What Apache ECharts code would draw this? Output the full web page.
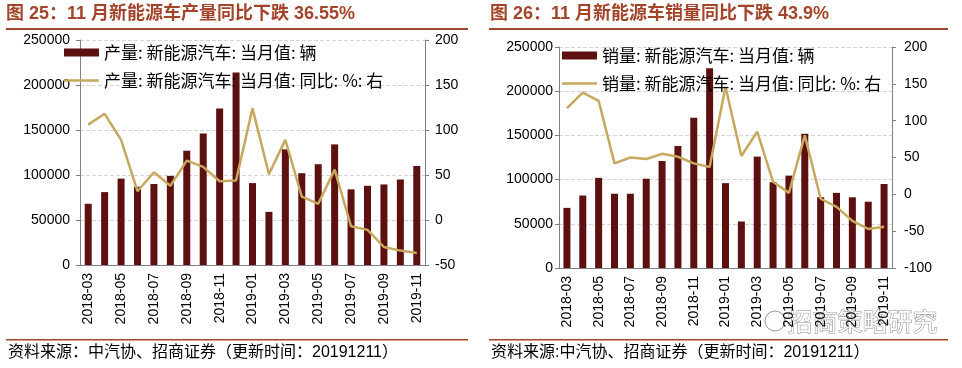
<!DOCTYPE html>
<html><head><meta charset="utf-8">
<script src="https://cdn.jsdelivr.net/npm/echarts@6/dist/echarts.min.js"></script>
<style>html,body{margin:0;padding:0;background:#fff}#c{width:962px;height:368px}</style>
</head><body><div id="c"></div>
<script>
const categories = ['2018-03','2018-04','2018-05','2018-06','2018-07','2018-08','2018-09','2018-10','2018-11','2018-12','2019-01','2019-02','2019-03','2019-04','2019-05','2019-06','2019-07','2019-08','2019-09','2019-10','2019-11'];
const prodVolume = [68000, 81000, 96000, 87000, 90000, 99000, 127000, 146000, 174000, 214000, 91000, 59000, 128500, 102000, 112000, 134000, 84000, 88000, 89500, 95000, 110000];
const prodYoY = [106, 118, 89, 32, 53, 38, 66, 59, 43, 44, 124, 51, 89, 26, 18, 56, -7, -11, -30, -34, -36.55];
const salesVolume = [68000, 82000, 102000, 84000, 84000, 101000, 121000, 138000, 170000, 226000, 96000, 52600, 126000, 97000, 104500, 152000, 80000, 85000, 80000, 75000, 95000];
const salesYoY = [117, 138, 127, 42, 50, 48, 55, 51, 42, 37, 146, 52, 85, 17, 2, 80, -6, -17, -36, -47, -43.9];
const leftAxisTicks = {min: 0, max: 250000, interval: 50000};
const prodRightTicks = {min: -50, max: 200, interval: 50};
const salesRightTicks = {min: -100, max: 200, interval: 50};
const titles = ['图 25：11 月新能源车产量同比下跌 36.55%', '图 26：11 月新能源车销量同比下跌 43.9%'];
const sources = ['资料来源：中汽协、招商证券（更新时间：20191211）', '资料来源:中汽协、招商证券（更新时间：20191211）'];
const names = {
  prodBar: '产量: 新能源汽车: 当月值: 辆',
  prodLine: '产量: 新能源汽车: 当月值: 同比: %: 右',
  salesBar: '销量: 新能源汽车: 当月值: 辆',
  salesLine: '销量: 新能源汽车: 当月值: 同比: %: 右'
};

const CJK = '"Noto Sans CJK SC", sans-serif';
const LAT = '"Liberation Sans", "Noto Sans CJK SC", sans-serif';
const BAR_COLOR = '#5C1010';
const LINE_COLOR = '#C6A95E';
const TITLE_COLOR = '#A3452B';
const AXIS_COLOR = '#808080';
const LINE_ICON = 'path://M0,0L0,0M0,8L0,8M0,2.8L35,2.8L35,5.2L0,5.2Z';

const plain = v => String(v);

function xAx(gi) {
  return {type: 'category', gridIndex: gi, data: categories, boundaryGap: true,
    axisLine: {lineStyle: {color: AXIS_COLOR}},
    axisTick: {interval: 1, length: 4, lineStyle: {color: AXIS_COLOR}},
    axisLabel: {interval: 1, rotate: 90, fontSize: 14, color: '#000', fontFamily: LAT, margin: 8}};
}
function yLeft(gi, margin) {
  return Object.assign({type: 'value', gridIndex: gi, position: 'left',
    axisLine: {show: true, lineStyle: {color: AXIS_COLOR}},
    axisTick: {show: true, length: 4, lineStyle: {color: AXIS_COLOR}},
    axisLabel: {fontSize: 14, color: '#000', fontFamily: LAT, margin: margin, formatter: plain},
    splitLine: {show: true, lineStyle: {type: 'dashed', color: '#d6d6d6'}}}, leftAxisTicks);
}
function yRight(gi, ticks, margin) {
  return Object.assign({type: 'value', gridIndex: gi, position: 'right',
    axisLine: {show: true, lineStyle: {color: AXIS_COLOR}},
    axisTick: {show: true, length: 4, lineStyle: {color: AXIS_COLOR}},
    axisLabel: {fontSize: 14, color: '#000', fontFamily: LAT, margin: margin, formatter: plain},
    splitLine: {show: false}}, ticks);
}
function legendFor(left, top, barName, lineName) {
  return {orient: 'vertical', left: left, top: top, itemWidth: 35, itemHeight: 8, itemGap: 11,
    textStyle: {fontSize: 17, fontFamily: CJK, color: '#000'},
    data: [{name: barName, icon: 'rect'}, {name: lineName, icon: LINE_ICON}]};
}

const chart = echarts.init(document.getElementById('c'));
chart.setOption({
  animation: false,
  backgroundColor: '#fff',
  grid: [
    {left: 80, top: 40, width: 345, height: 225},
    {left: 559, top: 47, width: 333, height: 221}
  ],
  xAxis: [xAx(0), xAx(1)],
  yAxis: [yLeft(0, 10), yRight(0, prodRightTicks, 10), yLeft(1, 6), yRight(1, salesRightTicks, 12)],
  legend: [
    legendFor(59, 39, names.prodBar, names.prodLine),
    legendFor(557, 42, names.salesBar, names.salesLine)
  ],
  series: [
    {name: names.prodBar, type: 'bar', xAxisIndex: 0, yAxisIndex: 0, data: prodVolume, barWidth: 7, itemStyle: {color: BAR_COLOR}},
    {name: names.prodLine, type: 'line', xAxisIndex: 0, yAxisIndex: 1, data: prodYoY, symbol: 'none', lineStyle: {color: LINE_COLOR, width: 2.5}, itemStyle: {color: LINE_COLOR}},
    {name: names.salesBar, type: 'bar', xAxisIndex: 1, yAxisIndex: 2, data: salesVolume, barWidth: 7, itemStyle: {color: BAR_COLOR}},
    {name: names.salesLine, type: 'line', xAxisIndex: 1, yAxisIndex: 3, data: salesYoY, symbol: 'none', lineStyle: {color: LINE_COLOR, width: 2.5}, itemStyle: {color: LINE_COLOR}}
  ],
  graphic: [
    {type: 'text', left: 6, top: 5, style: {text: titles[0], font: 'bold 18px ' + LAT, fill: TITLE_COLOR}},
    {type: 'rect', shape: {x: 6, y: 28, width: 462, height: 2}, style: {fill: TITLE_COLOR}},
    {type: 'text', left: 490, top: 5, style: {text: titles[1], font: 'bold 18px ' + LAT, fill: TITLE_COLOR}},
    {type: 'rect', shape: {x: 489, y: 28, width: 459, height: 2}, style: {fill: TITLE_COLOR}},
    {type: 'rect', shape: {x: 6, y: 339, width: 462, height: 1.5}, style: {fill: TITLE_COLOR}},
    {type: 'rect', shape: {x: 489, y: 339, width: 459, height: 1.5}, style: {fill: TITLE_COLOR}},
    {type: 'text', left: 8, top: 345, style: {text: sources[0], font: '16px ' + LAT, fill: '#000'}},
    {type: 'text', left: 491, top: 345, style: {text: sources[1], font: '16px ' + LAT, fill: '#000'}},
    {type: 'circle', shape: {cx: 775, cy: 321, r: 10}, style: {fill: 'rgba(255,255,255,0.85)', stroke: '#9a9a9a', lineWidth: 1}},
    {type: 'text', left: 787, top: 308, style: {text: '招商策略研究', font: '25px ' + CJK, fill: '#ffffff', stroke: '#8a8a8a', lineWidth: 1}}
  ]
});
</script></body></html>
